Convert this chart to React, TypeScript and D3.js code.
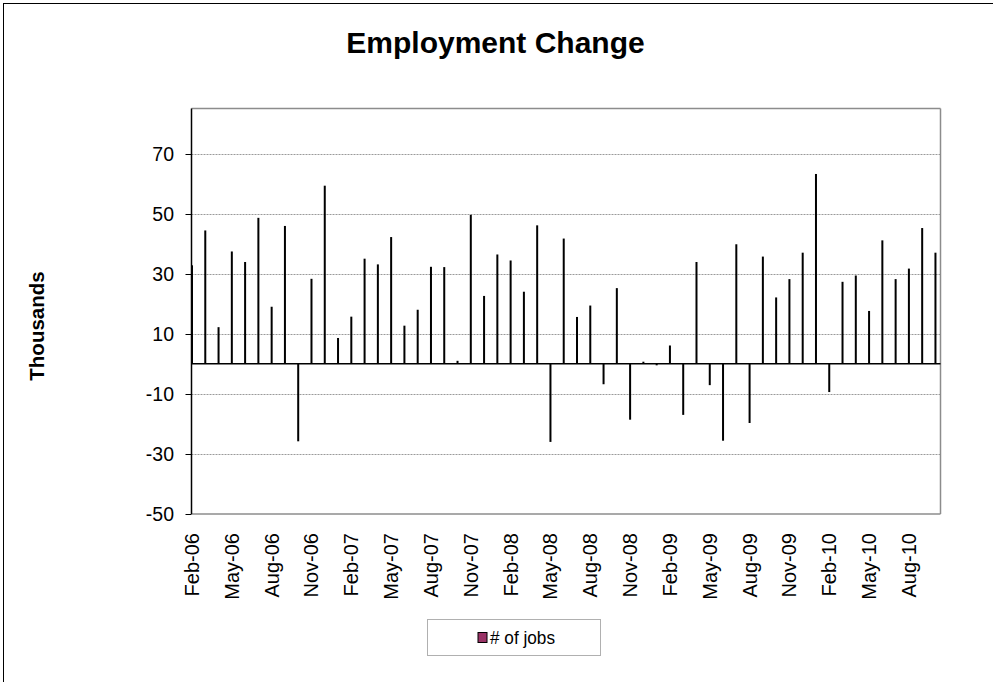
import React from "react";
import * as d3 from "d3";

const months = [
  "Feb-06","Mar-06","Apr-06","May-06","Jun-06","Jul-06","Aug-06","Sep-06","Oct-06","Nov-06","Dec-06",
  "Jan-07","Feb-07","Mar-07","Apr-07","May-07","Jun-07","Jul-07","Aug-07","Sep-07","Oct-07","Nov-07","Dec-07",
  "Jan-08","Feb-08","Mar-08","Apr-08","May-08","Jun-08","Jul-08","Aug-08","Sep-08","Oct-08","Nov-08","Dec-08",
  "Jan-09","Feb-09","Mar-09","Apr-09","May-09","Jun-09","Jul-09","Aug-09","Sep-09","Oct-09","Nov-09","Dec-09",
  "Jan-10","Feb-10","Mar-10","Apr-10","May-10","Jun-10","Jul-10","Aug-10","Sep-10","Oct-10",
];

const jobs = [
  32.8, 44.4, 12.2, 37.4, 33.9, 48.6, 19.0, 45.9, -25.8, 28.3, 59.3,
  8.6, 15.7, 35.0, 33.1, 42.2, 12.7, 18.0, 32.3, 32.2, 1.0, 49.6, 22.6,
  36.4, 34.4, 24.0, 46.1, -26.0, 41.7, 15.6, 19.4, -6.8, 25.2, -18.6, 0.7,
  -0.5, 6.1, -17.0, 33.9, -7.1, -25.6, 39.8, -19.7, 35.7, 22.1, 28.2, 37.0,
  63.2, -9.4, 27.3, 29.4, 17.6, 41.1, 28.2, 31.7, 45.2, 37.0,
];

const yTicks = [-50, -30, -10, 10, 30, 50, 70];
const labelEvery = 3;

const W = 993;
const H = 682;
const plot = { left: 191.5, right: 940.5, top: 108.5, bottom: 514 };

export default function App() {
  const x = d3.scaleLinear().domain([0, 56.38]).range([plot.left + 0.5, plot.right]);
  const y = d3.scaleLinear().domain([-50, 85]).range([plot.bottom, plot.top]);
  const font = "Arial, 'Liberation Sans', sans-serif";

  return (
    <svg width={W} height={H} style={{ position: "absolute", left: 0, top: 0, background: "#fff" }}>
      <rect x={3.5} y={3.5} width={W + 10} height={H + 10} fill="#fff" stroke="#000" strokeWidth={1} />
      <text x={495.5} y={53} textAnchor="middle" fontFamily={font} fontWeight="bold" fontSize={30}>
        Employment Change
      </text>

      {/* gridlines */}
      {yTicks.filter((t) => t !== -50).map((t) => (
        <line key={t} x1={plot.left} x2={plot.right} y1={Math.round(y(t)) + 0.5} y2={Math.round(y(t)) + 0.5}
          stroke="#9a9a9a" strokeWidth={1} strokeDasharray="2,1" />
      ))}

      {/* plot border */}
      <line x1={plot.left} x2={plot.right} y1={plot.top} y2={plot.top} stroke="#8c8c8c" strokeWidth={1.5} />
      <line x1={plot.right} x2={plot.right} y1={plot.top} y2={plot.bottom} stroke="#8c8c8c" strokeWidth={1.5} />
      <line x1={plot.left} x2={plot.right} y1={plot.bottom} y2={plot.bottom} stroke="#8c8c8c" strokeWidth={1.5} />

      {/* bars */}
      {jobs.map((v, i) => (
        <rect key={i} x={x(i) - 1} width={2}
          y={Math.min(y(v), y(0))} height={Math.abs(y(v) - y(0))} fill="#000" />
      ))}

      {/* zero axis */}
      <line x1={plot.left} x2={plot.right} y1={y(0)} y2={y(0)} stroke="#000" strokeWidth={1.5} />
      {/* y axis */}
      <line x1={plot.left} x2={plot.left} y1={plot.top} y2={plot.bottom} stroke="#000" strokeWidth={1.5} />
      {yTicks.map((t) => (
        <g key={t}>
          <line x1={plot.left - 6} x2={plot.left} y1={Math.round(y(t)) + 0.5} y2={Math.round(y(t)) + 0.5} stroke="#000" strokeWidth={1} />
          <text x={174} y={y(t)} textAnchor="end" dominantBaseline="central" fontFamily={font} fontSize={19.5}>
            {t}
          </text>
        </g>
      ))}

      {/* x labels */}
      {months.map((m, i) =>
        i % labelEvery === 0 ? (
          <text key={m} transform={`translate(${x(i) + 7},533) rotate(-90)`} textAnchor="end"
            fontFamily={font} fontSize={20}>
            {m}
          </text>
        ) : null
      )}

      <text transform="translate(44,326) rotate(-90)" textAnchor="middle" fontFamily={font} fontWeight="bold" fontSize={20.5}>
        Thousands
      </text>

      {/* legend */}
      <rect x={427.5} y={619.5} width={173} height={36} fill="#fff" stroke="#b0b0b0" strokeWidth={1} />
      <rect x={478} y={632.5} width={9} height={10} fill="#993366" stroke="#000" strokeWidth={1} />
      <text x={490} y={644} fontFamily={font} fontSize={18} textLength={65} lengthAdjust="spacingAndGlyphs">
        # of jobs
      </text>
    </svg>
  );
}
